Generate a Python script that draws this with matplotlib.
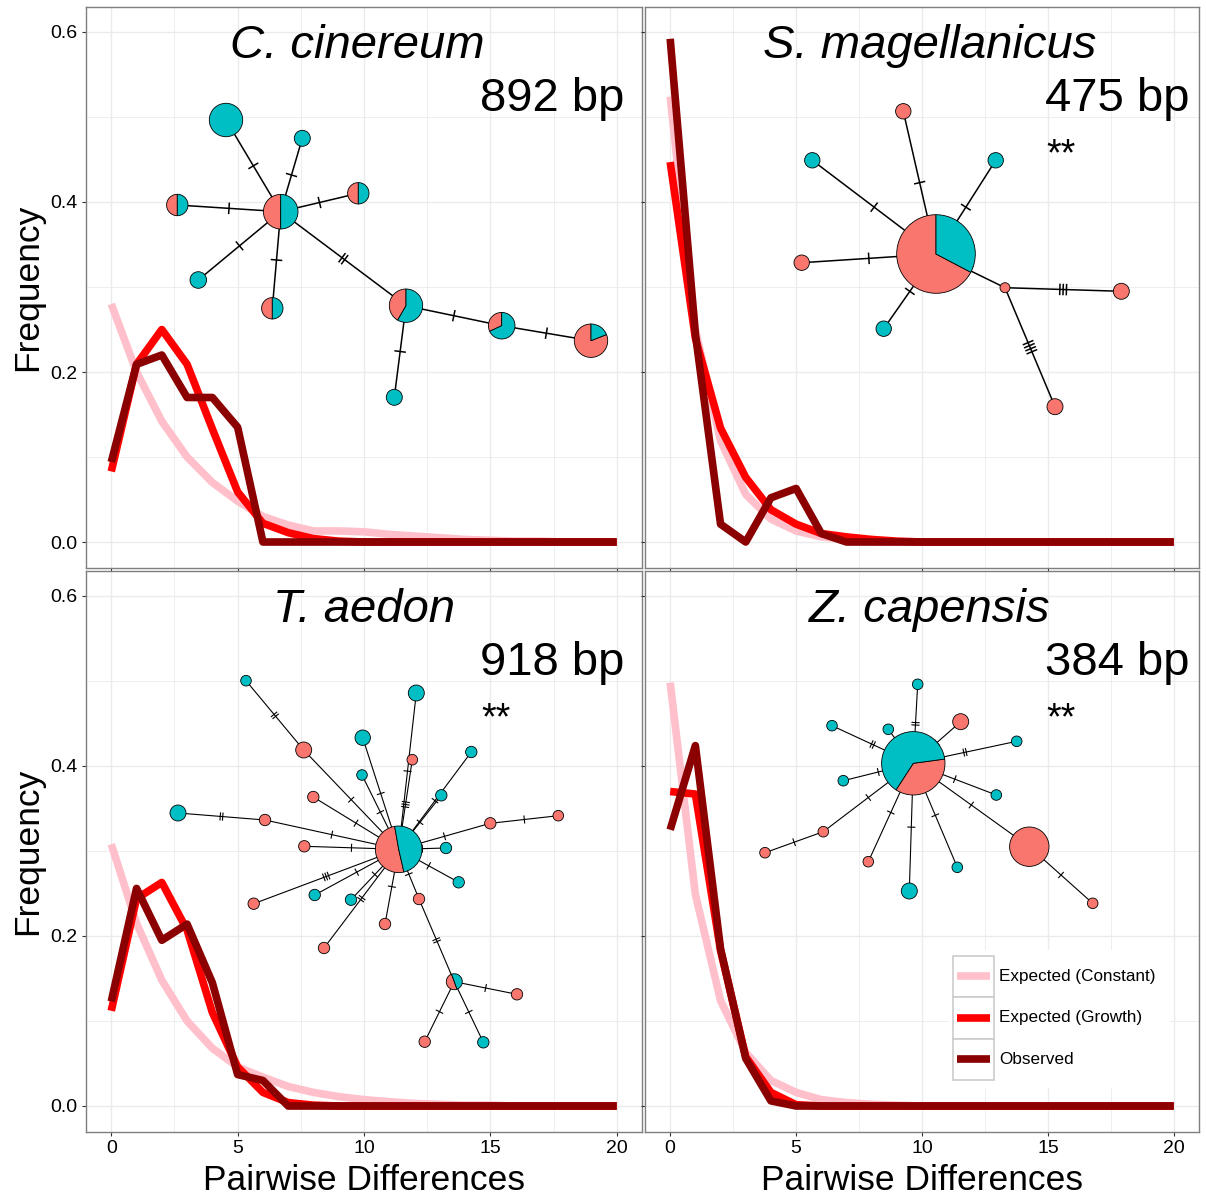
import numpy as np
import matplotlib.pyplot as plt
from matplotlib.patches import Wedge, Circle, Rectangle

W, H = 1206, 1197
plt.rcParams['font.family'] = ['Liberation Sans', 'DejaVu Sans']

# pairwise differences
x = np.arange(21)

# mismatch distributions (frequency per number of pairwise differences)
cc_constant = [0.28, 0.20, 0.142, 0.10, 0.07, 0.048, 0.03, 0.02, 0.013, 0.013, 0.012,
               0.009, 0.007, 0.005, 0.003, 0.002, 0.001, 0.001, 0.0, 0.0, 0.0]
cc_growth = [0.083, 0.209, 0.25, 0.209, 0.133, 0.059, 0.022, 0.011, 0.004, 0.001, 0.0,
             0.0, 0.0, 0.0, 0.0, 0.0, 0.0, 0.0, 0.0, 0.0, 0.0]
cc_observed = [0.094, 0.209, 0.22, 0.17, 0.17, 0.135, 0.0, 0.0, 0.0, 0.0, 0.0,
               0.0, 0.0, 0.0, 0.0, 0.0, 0.0, 0.0, 0.0, 0.0, 0.0]

sm_constant = [0.524, 0.25, 0.119, 0.056, 0.027, 0.013, 0.006, 0.003, 0.001, 0.0, 0.0,
               0.0, 0.0, 0.0, 0.0, 0.0, 0.0, 0.0, 0.0, 0.0, 0.0]
sm_growth = [0.447, 0.24, 0.134, 0.076, 0.038, 0.021, 0.010, 0.006, 0.003, 0.001, 0.0,
             0.0, 0.0, 0.0, 0.0, 0.0, 0.0, 0.0, 0.0, 0.0, 0.0]
sm_observed = [0.592, 0.245, 0.021, 0.0, 0.052, 0.063, 0.010, 0.0, 0.0, 0.0, 0.0,
               0.0, 0.0, 0.0, 0.0, 0.0, 0.0, 0.0, 0.0, 0.0, 0.0]

ta_constant = [0.308, 0.215, 0.148, 0.10, 0.068, 0.046, 0.034, 0.023, 0.016, 0.011, 0.0075,
               0.005, 0.003, 0.002, 0.001, 0.001, 0.0, 0.0, 0.0, 0.0, 0.0]
ta_growth = [0.112, 0.244, 0.263, 0.207, 0.11, 0.046, 0.016, 0.004, 0.001, 0.0, 0.0,
             0.0, 0.0, 0.0, 0.0, 0.0, 0.0, 0.0, 0.0, 0.0, 0.0]
ta_observed = [0.123, 0.256, 0.195, 0.214, 0.145, 0.037, 0.030, 0.0, 0.0, 0.0, 0.0,
               0.0, 0.0, 0.0, 0.0, 0.0, 0.0, 0.0, 0.0, 0.0, 0.0]

zc_constant = [0.498, 0.249, 0.124, 0.063, 0.030, 0.016, 0.0075, 0.004, 0.002, 0.001, 0.0,
               0.0, 0.0, 0.0, 0.0, 0.0, 0.0, 0.0, 0.0, 0.0, 0.0]
zc_growth = [0.370, 0.367, 0.183, 0.058, 0.016, 0.0015, 0.0, 0.0, 0.0, 0.0, 0.0,
             0.0, 0.0, 0.0, 0.0, 0.0, 0.0, 0.0, 0.0, 0.0, 0.0]
zc_observed = [0.325, 0.424, 0.185, 0.056, 0.006, 0.0, 0.0, 0.0, 0.0, 0.0, 0.0,
               0.0, 0.0, 0.0, 0.0, 0.0, 0.0, 0.0, 0.0, 0.0, 0.0]

species = ['C. cinereum', 'S. magellanicus', 'T. aedon', 'Z. capensis']
lengths = ['892 bp', '475 bp', '918 bp', '384 bp']
signif = ['', '**', '**', '**']

# haplotype networks (image pixel layout, node radius, pink share, pink start angle)
cc_nx = [280.7, 226, 302.3, 177.3, 358.3, 198.3, 272.3, 406, 501.7, 591, 394.3]
cc_ny = [211.7, 120, 138.3, 205, 193.3, 280, 308.3, 305.7, 325.7, 340.7, 397.3]
cc_nr = [17.3, 16.7, 8, 10.7, 10.7, 8.3, 10.7, 16.7, 13.3, 16.7, 8]
cc_pink = [0.5, 0, 0, 0.5, 0.5, 0, 0.5, 0.417, 0.32, 0.81, 0]
cc_start = [90, 90, 90, 90, 90, 90, 90, 90, 90, 90, 90]
cc_edges = [(0, 1, 1), (0, 2, 1), (0, 3, 1), (0, 4, 1), (0, 5, 1), (0, 6, 1),
            (0, 7, 2), (7, 8, 1), (8, 9, 1), (7, 10, 1)]

sm_nx = [936, 903.3, 812.3, 995.7, 801.7, 883.7, 1005, 1121.3, 1055]
sm_ny = [254, 111.3, 160.3, 160.3, 262.7, 328.7, 287.7, 291.3, 406.7]
sm_nr = [39.3, 7.7, 7.7, 7.7, 7.7, 7.7, 5, 8, 8]
sm_pink = [0.673, 1, 0, 0, 1, 0, 1, 1, 1]
sm_start = [90, 90, 90, 90, 90, 90, 90, 90, 90]
sm_edges = [(0, 1, 1), (0, 2, 1), (0, 3, 1), (0, 4, 1), (0, 5, 1), (0, 6, 1),
            (6, 7, 3), (6, 8, 4)]

ta_nx = [398.7, 246, 303.7, 362.7, 362, 416.3, 412.3, 471.3, 441.3, 558.3, 490.3, 446, 458.7,
         419, 454.3, 517, 424.7, 483.3, 385, 324, 351, 314.7, 253.7, 304.3, 265, 178, 313.3]
ta_ny = [849.3, 680.7, 750, 737.7, 775, 693, 759.7, 752, 795.3, 815.7, 823.3, 848, 882.3,
         899, 981.7, 994.3, 1041.7, 1042.3, 924, 948, 899.7, 895, 903.7, 846.3, 820, 813, 797]
ta_nr = [23.3, 5.3, 8, 7.7, 5.3, 8, 5.3, 5.7, 5.7, 5.3, 5.7, 5.7, 5.7,
         5.7, 8, 5.7, 5.7, 5.7, 5.7, 5.7, 5.7, 5.7, 5.7, 5.7, 5.7, 8, 5.7]
ta_pink = [0.508, 0, 1, 0, 0, 0, 1, 0, 0, 1, 1, 0, 0,
           1, 0.5, 1, 1, 0, 1, 1, 0, 0, 1, 1, 1, 0, 1]
ta_start = [100, 90, 90, 90, 90, 90, 90, 90, 90, 90, 90, 90, 90,
            90, 110, 90, 90, 90, 90, 90, 90, 90, 90, 90, 90, 90, 90]
ta_edges = [(0, 2, 1), (2, 1, 2), (0, 3, 1), (0, 4, 1), (0, 5, 1), (0, 6, 3), (0, 7, 1),
            (0, 8, 1), (10, 9, 1), (0, 10, 1), (0, 11, 1), (0, 12, 1), (0, 13, 1), (13, 14, 2),
            (14, 15, 1), (14, 16, 1), (14, 17, 1), (0, 18, 1), (0, 19, 2), (0, 20, 1),
            (0, 21, 1), (0, 22, 3), (0, 23, 1), (0, 24, 1), (24, 25, 2), (0, 26, 1)]

zc_nx = [913.3, 917.7, 888.3, 832, 960.7, 1016.7, 843.3, 996.3, 823.3, 765, 868.3, 909.3,
         957.3, 1029.3, 1092.7]
zc_ny = [763.3, 684.3, 729.3, 725.7, 721.7, 741.3, 780.7, 795, 831.7, 852.7, 861.7, 891,
         867.3, 846.7, 903.3]
zc_nr = [31.7, 5.3, 5.3, 5.3, 8, 5.3, 5.3, 5.3, 5.3, 5.3, 5.3, 8, 5.3, 19.7, 5.3]
zc_pink = [0.363, 0, 0, 0, 1, 0, 0, 0, 1, 1, 1, 0, 0, 1, 1]
zc_start = [237, 90, 90, 90, 90, 90, 90, 90, 90, 90, 90, 90, 90, 90, 90]
zc_edges = [(0, 1, 2), (0, 2, 1), (0, 3, 2), (0, 4, 1), (0, 5, 2), (0, 6, 1), (0, 7, 1),
            (0, 8, 1), (8, 9, 1), (0, 10, 1), (0, 11, 1), (0, 12, 1), (0, 13, 1), (13, 14, 1)]

PINK = '#FFC0CB'
RED = '#FF0000'
DARKRED = '#8B0000'
SALMON = '#F8766D'
CYAN = '#00BFC4'

constants = [cc_constant, sm_constant, ta_constant, zc_constant]
growths = [cc_growth, sm_growth, ta_growth, zc_growth]
observeds = [cc_observed, sm_observed, ta_observed, zc_observed]

# panel boxes in pixels: left, top, right, bottom
boxes = [(86, 6.5, 642, 567.5), (645, 6.5, 1199, 567.5),
         (86, 570.5, 642, 1131.5), (645, 570.5, 1199, 1131.5)]
title_x = [9.75, 10.3, 10.0, 10.3]
label_x = [14.6, 14.9, 14.6, 14.9]

fig = plt.figure(figsize=(W / 100, H / 100), dpi=100)

for i in range(4):
    l, t, r, b = boxes[i]
    ax = fig.add_axes([l / W, 1 - b / H, (r - l) / W, (b - t) / H])
    lw = 5.5
    ax.plot(x, constants[i], color=PINK, lw=lw, solid_joinstyle='round', solid_capstyle='butt', zorder=3)
    ax.plot(x, growths[i], color=RED, lw=lw, solid_joinstyle='round', solid_capstyle='butt', zorder=4)
    ax.plot(x, observeds[i], color=DARKRED, lw=lw, solid_joinstyle='round', solid_capstyle='butt', zorder=5)
    ax.set_xlim(-1, 21)
    ax.set_ylim(-0.03, 0.63)
    ax.set_xticks([0, 5, 10, 15, 20])
    ax.set_xticks([2.5, 7.5, 12.5, 17.5], minor=True)
    ax.set_yticks([0, 0.2, 0.4, 0.6])
    ax.set_yticklabels(['0.0', '0.2', '0.4', '0.6'])
    ax.set_yticks([0.1, 0.3, 0.5], minor=True)
    ax.grid(which='major', color='#EBEBEB', lw=1.0)
    ax.grid(which='minor', color='#EBEBEB', lw=0.6)
    ax.set_axisbelow(True)
    ax.tick_params(which='minor', length=0)
    ax.tick_params(which='major', length=3, width=0.8, color='#333333', labelsize=14,
                   labelcolor='black', pad=3)
    if i < 2:
        ax.tick_params(labelbottom=False)
    if i % 2 == 1:
        ax.tick_params(labelleft=False)
    for s in ax.spines.values():
        s.set_color('#7F7F7F')
        s.set_linewidth(1.0)
    ax.text(title_x[i], 0.57, species[i], fontsize=34, fontstyle='italic',
            ha='center', va='baseline')
    ax.text(label_x[i], 0.507, lengths[i], fontsize=34, ha='left', va='baseline')
    if signif[i]:
        ax.text(label_x[i] + 0.05, 0.4435, signif[i], fontsize=27, ha='left', va='baseline')

# axis titles
for yc in [287, 851]:
    fig.text(28 / W, 1 - yc / H, 'Frequency', fontsize=25.5, rotation=90, ha='center', va='center')
for xc in [364, 922]:
    fig.text(xc / W, 1 - 1190 / H, 'Pairwise Differences', fontsize=25.5, ha='center', va='baseline')

# overlay for haplotype networks and legend (pixel coordinates, y from top)
ov = fig.add_axes([0, 0, 1, 1])
ov.set_xlim(0, W)
ov.set_ylim(0, H)
ov.axis('off')
ov.patch.set_alpha(0)


def draw_network(nx, ny, nr, pink, start, edges, tick_len, tick_gap, edge_lw):
    for a, c, k in edges:
        xa, ya = nx[a], H - ny[a]
        xc, yc = nx[c], H - ny[c]
        ov.plot([xa, xc], [ya, yc], color='black', lw=edge_lw, zorder=2)
        d = np.hypot(xc - xa, yc - ya)
        ux, uy = (xc - xa) / d, (yc - ya) / d
        px, py = -uy, ux
        mx, my = (xa + xc) / 2, (ya + yc) / 2
        for j in range(k):
            off = (j - (k - 1) / 2) * tick_gap
            cx, cy = mx + off * ux, my + off * uy
            ov.plot([cx - px * tick_len / 2, cx + px * tick_len / 2],
                    [cy - py * tick_len / 2, cy + py * tick_len / 2],
                    color='black', lw=edge_lw, zorder=2)
    for n in range(len(nx)):
        cx, cy, rad = nx[n], H - ny[n], nr[n]
        f = pink[n]
        if f <= 0 or f >= 1:
            ov.add_patch(Circle((cx, cy), rad, facecolor=SALMON if f >= 1 else CYAN,
                                edgecolor='black', lw=0.6, zorder=3))
        else:
            a0 = start[n]
            a1 = a0 + 360 * f
            ov.add_patch(Wedge((cx, cy), rad, a0, a1, facecolor=SALMON,
                               edgecolor='black', lw=0.6, zorder=3))
            ov.add_patch(Wedge((cx, cy), rad, a1, a0 + 360, facecolor=CYAN,
                               edgecolor='black', lw=0.6, zorder=3))


draw_network(cc_nx, cc_ny, cc_nr, cc_pink, cc_start, cc_edges, 10, 3.3, 1.1)
draw_network(sm_nx, sm_ny, sm_nr, sm_pink, sm_start, sm_edges, 10, 3.3, 1.1)
draw_network(ta_nx, ta_ny, ta_nr, ta_pink, ta_start, ta_edges, 7, 2.5, 0.8)
draw_network(zc_nx, zc_ny, zc_nr, zc_pink, zc_start, zc_edges, 7, 2.5, 0.8)

# legend
legend_labels = ['Expected (Constant)', 'Expected (Growth)', 'Observed']
legend_colors = [PINK, RED, DARKRED]
ov.add_patch(Rectangle((949, H - 1088), 221, 138, facecolor='white', edgecolor='none', zorder=5))
row_top = [955.5, 997, 1038.5]
for k in range(3):
    ov.add_patch(Rectangle((952.5, H - row_top[k] - 41.5), 41.5, 41.5, facecolor='white',
                           edgecolor='#CCCCCC', lw=1.2, zorder=6))
    yc = H - (row_top[k] + 20.75)
    ov.plot([957, 990], [yc, yc], color=legend_colors[k], lw=5.5, solid_capstyle='butt', zorder=7)
    ov.text(999, yc, legend_labels[k], fontsize=12.3, ha='left', va='center', zorder=7)

fig.savefig('out.png', dpi=100)
